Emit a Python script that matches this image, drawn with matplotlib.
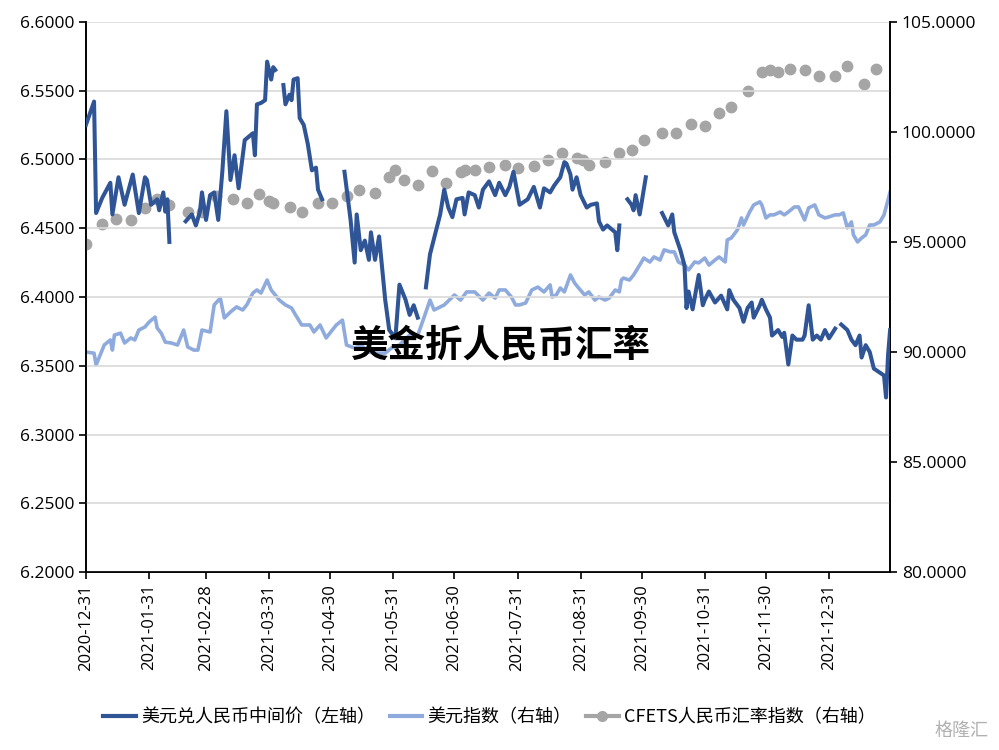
import numpy as np
import pandas as pd
import matplotlib
matplotlib.use("Agg")
import matplotlib.pyplot as plt
from matplotlib.lines import Line2D

plt.rcParams["font.family"] = ["Noto Sans CJK SC"]

BASE = pd.Timestamp("2020-12-31")

# 美元兑人民币中间价 (left axis) : days since 2020-12-31, value (NaN = gap)
usdcny_days = [0,4,5,8,12,13,16,19,23,26,29,30,32,35,36,38,39,40,41,45,
    49,52,54,56,57,59,61,63,65,67,69,71,73,75,78,82,83,84,86,88,89,91,92,93,95,
    97,98,100,101,102,104,105,107,109,111,113,114,116,120,
    127,130,132,133,135,137,139,140,142,144,147,149,152,154,157,159,161,163,165,
    167,169,174,176,178,180,182,185,186,188,191,193,195,198,201,203,206,208,210,213,
    217,220,223,225,228,230,233,235,236,238,239,241,243,246,248,251,252,254,256,260,261,262,265,
    266,268,269,270,272,273,275,280,
    283,286,288,289,292,294,295,296,298,301,303,304,306,309,312,315,316,318,321,323,325,327,328,
    331,332,334,336,337,340,342,343,345,347,349,352,353,355,357,359,361,363,365,368,370,
    371,374,376,378,380,381,383,385,387,390,392,393,394,395]
usdcny_vals = [6.525,6.542,6.461,6.472,6.483,6.460,6.487,6.467,6.489,6.461,6.487,6.485,6.467,6.471,6.463,6.476,6.462,6.471,6.440,np.nan,
    6.455,6.460,6.452,6.462,6.476,6.456,6.474,6.476,6.456,6.491,6.535,6.485,6.503,6.479,6.514,6.519,6.503,6.540,6.541,6.543,6.571,6.558,6.567,6.565,np.nan,
    6.554,6.540,6.547,6.543,6.558,6.559,6.530,6.525,6.511,6.492,6.494,6.478,6.471,np.nan,
    6.491,6.456,6.425,6.460,6.434,6.441,6.427,6.447,6.427,6.444,6.398,6.376,6.370,6.409,6.398,6.387,6.394,6.385,np.nan,
    6.407,6.431,6.460,6.478,6.465,6.458,6.471,6.472,6.460,6.476,6.474,6.465,6.478,6.484,6.474,6.483,6.474,6.480,6.491,6.467,
    6.471,6.480,6.465,6.479,6.476,6.481,6.487,6.498,6.497,6.489,6.478,6.487,6.474,6.465,6.467,6.468,6.455,6.449,6.452,6.447,6.434,6.452,np.nan,
    6.471,6.467,6.463,6.474,6.460,6.469,6.487,np.nan,
    6.461,6.452,6.460,6.447,6.434,6.423,6.392,6.404,6.391,6.416,6.394,6.398,6.404,6.396,6.401,6.391,6.405,6.398,6.392,6.382,6.392,6.396,6.385,
    6.394,6.398,6.391,6.385,6.372,6.376,6.371,6.374,6.351,6.372,6.369,6.369,6.372,6.394,6.369,6.372,6.369,6.376,6.370,6.377,np.nan,
    6.380,6.376,6.369,6.365,6.372,6.356,6.365,6.360,6.348,6.345,6.343,6.327,6.358,6.376]

# 美元指数 (right axis)
dxy_days = [0,4,5,7,9,12,13,14,17,19,22,24,26,29,31,34,35,37,39,42,45,48,50,53,55,57,61,63,66,68,71,74,77,79,
    82,84,86,89,91,95,98,101,103,106,110,112,115,118,121,123,126,128,132,135,139,143,147,150,154,159,163,166,169,171,
    176,181,184,187,191,195,198,201,203,206,209,211,213,216,219,222,225,228,229,231,233,235,238,240,242,245,247,250,
    252,255,257,260,262,263,264,267,269,272,274,277,279,282,284,287,289,291,294,296,299,301,304,306,309,311,314,315,
    317,320,322,323,326,328,331,332,334,336,338,341,343,345,348,350,353,355,358,360,363,365,368,370,372,374,376,377,
    379,381,383,385,387,390,392,394,395]
dxy_vals = [90.00,89.95,89.41,89.86,90.32,90.55,90.09,90.77,90.86,90.41,90.64,90.55,91.00,91.14,91.36,91.59,91.09,90.86,90.45,90.41,90.32,91.00,90.23,90.09,90.09,91.00,90.91,92.14,92.45,91.55,91.82,92.05,91.91,92.14,
    92.68,92.82,92.68,93.27,92.82,92.36,92.14,92.00,91.68,91.23,91.23,90.91,91.23,90.64,91.00,91.23,91.45,90.32,90.18,90.32,90.00,89.95,89.95,90.18,90.32,90.77,90.77,91.55,92.36,91.91,
    92.14,92.59,92.36,92.73,92.73,92.36,92.68,92.45,92.82,92.82,92.50,92.14,92.14,92.23,92.82,92.95,92.73,93.05,92.50,92.59,92.91,92.73,93.50,93.14,92.91,92.59,92.73,92.36,
    92.50,92.36,92.45,92.82,92.73,93.27,93.36,93.27,93.50,93.95,94.27,94.09,94.32,94.18,94.64,94.55,94.55,94.09,93.95,93.73,94.09,94.05,94.27,93.95,94.18,94.32,94.09,95.09,
    95.18,95.55,96.09,95.77,96.36,96.68,96.82,96.68,96.09,96.23,96.23,96.36,96.23,96.36,96.59,96.59,96.00,96.55,96.68,96.23,96.09,96.14,96.23,96.23,96.32,95.64,95.91,95.32,
    95.00,95.18,95.32,95.77,95.77,95.91,96.23,96.91,97.27]

# CFETS人民币汇率指数 (right axis, weekly)
cfets_days = [0,8,15,22,29,35,41,50,57,64,72,79,85,90,92,100,106,114,121,128,134,142,149,152,156,163,170,177,184,186,
    191,198,206,212,220,227,234,241,244,247,255,262,268,274,283,290,297,304,311,317,325,332,336,340,346,353,360,368,374,382,388]
cfets_vals = [94.91,95.82,96.05,96.00,96.55,96.95,96.68,96.36,96.36,97.09,96.95,96.77,97.18,96.86,96.77,96.59,96.36,96.77,96.77,97.09,97.36,97.23,97.95,98.27,97.82,97.59,98.23,97.68,98.18,98.27,
    98.27,98.41,98.50,98.36,98.45,98.73,99.05,98.82,98.73,98.50,98.64,99.05,99.18,99.64,99.95,99.95,100.36,100.27,100.86,101.14,101.86,102.73,102.82,102.73,102.86,102.82,102.55,102.55,103.00,102.18,102.86]

tick_dates = ["2020-12-31","2021-01-31","2021-02-28","2021-03-31","2021-04-30","2021-05-31","2021-06-30",
              "2021-07-31","2021-08-31","2021-09-30","2021-10-31","2021-11-30","2021-12-31"]
left_ticks = [6.20,6.25,6.30,6.35,6.40,6.45,6.50,6.55,6.60]
right_ticks = [80,85,90,95,100,105]

title = "美金折人民币汇率"
labels = ["美元兑人民币中间价（左轴）", "美元指数（右轴）", "CFETS人民币汇率指数（右轴）"]

DARK, LIGHT, GREY = "#2F5597", "#8FAADC", "#A5A5A5"

def to_dates(days):
    return BASE + pd.to_timedelta(days, unit="D")

fig = plt.figure(figsize=(9.99, 7.5), dpi=100)
ax = fig.add_axes([0.086, 0.237, 0.805, 0.734])
ax2 = ax.twinx()

ax2.plot(to_dates(dxy_days), dxy_vals, color=LIGHT, lw=2.6, zorder=2)
ax2.plot(to_dates(cfets_days), cfets_vals, ls="none", marker="o", ms=7.5, color=GREY, mec=GREY, zorder=3)
ax.plot(to_dates(usdcny_days), usdcny_vals, color=DARK, lw=2.9, zorder=4)
ax.set_zorder(ax2.get_zorder() + 1)
ax.patch.set_visible(False)

ax.set_ylim(6.2, 6.6)
ax2.set_ylim(80, 105)
ax.set_xlim(BASE, BASE + pd.Timedelta(days=395))
ax.set_yticks(left_ticks)
ax.set_yticklabels([f"{v:.4f}" for v in left_ticks], fontsize=12.5, fontfamily="Open Sans")
ax2.set_yticks(right_ticks)
ax2.set_yticklabels([f"{v:.4f}" for v in right_ticks], fontsize=12.5, fontfamily="Open Sans")
td = pd.to_datetime(tick_dates)
ax.set_xticks(td)
ax.set_xticklabels(tick_dates, rotation=90, fontsize=12, fontfamily="Open Sans")
ax.grid(axis="y", color="#D9D9D9", lw=1.2)
ax.set_axisbelow(True)
for a in (ax, ax2):
    a.spines["top"].set_visible(False)
    for s in ("left", "right", "bottom"):
        a.spines[s].set_color("black")
        a.spines[s].set_linewidth(1.2)
ax.tick_params(axis="y", length=5, width=1.2)
ax2.tick_params(axis="y", length=5, width=1.2)
ax.tick_params(axis="x", length=5, width=1.2)

fig.text(0.501, 0.54, title, fontsize=27, fontweight="black", ha="center", va="center", color="black", zorder=10)

handles = [Line2D([], [], color=DARK, lw=3),
           Line2D([], [], color=LIGHT, lw=3),
           Line2D([], [], color=GREY, lw=3, marker="o", ms=7)]
fig.legend(handles, labels, loc="center", bbox_to_anchor=(0.49, 0.043), ncol=3, frameon=False,
           fontsize=13, handlelength=1.8, columnspacing=0.8, handletextpad=0.3)
fig.text(0.99, 0.025, "格隆汇", fontsize=13, color="#B0B0B0", ha="right", va="center")

fig.savefig("out.png", dpi=100)
